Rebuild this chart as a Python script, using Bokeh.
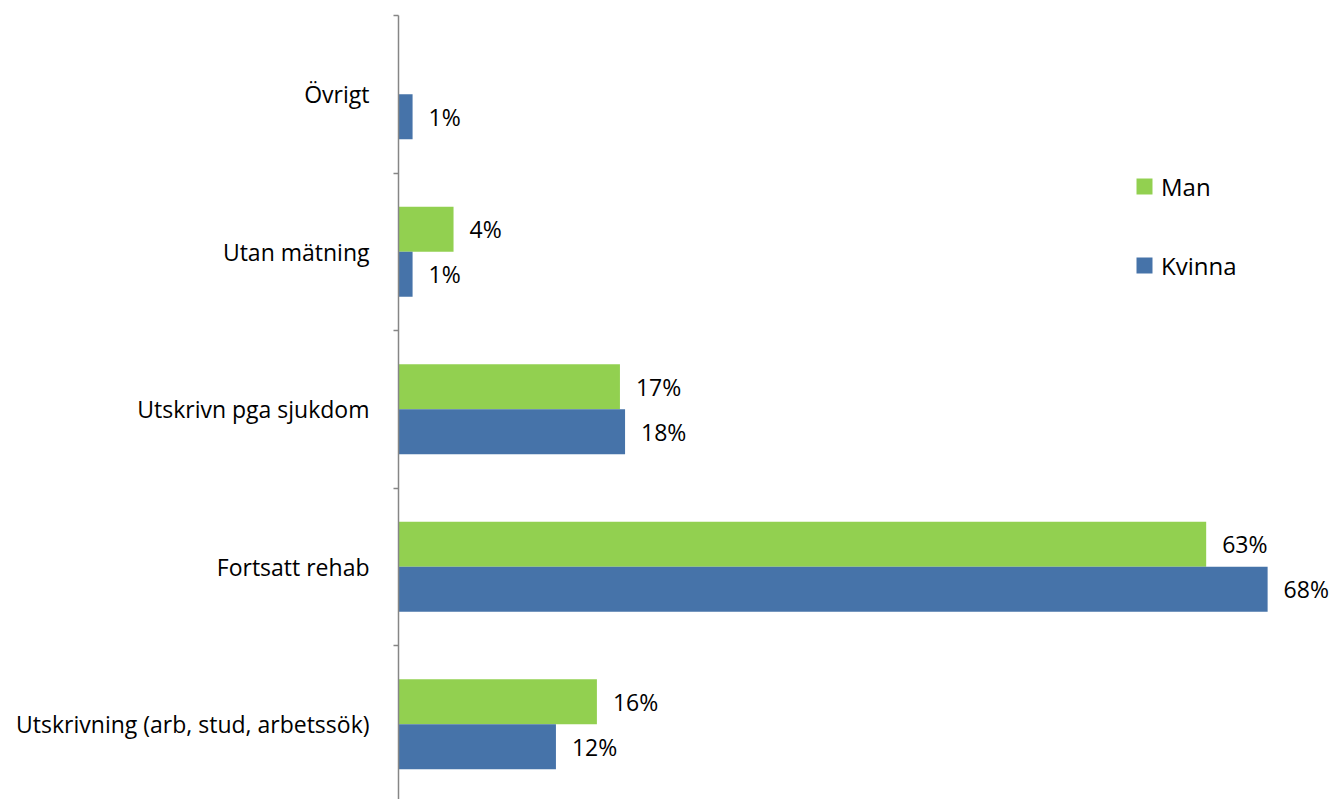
from bokeh.plotting import figure
from bokeh.models import (ColumnDataSource, Range1d, FixedTicker, Legend, LegendItem)
from bokeh.core.properties import value
from bokeh.embed import file_html
from bokeh.resources import INLINE
from bokeh.transform import dodge

# ---- data (bottom to top) ----
categories = ["Utskrivning (arb, stud, arbetssök)", "Fortsatt rehab",
              "Utskrivn pga sjukdom", "Utan mätning", "Övrigt"]
man = [15.5, 63.1, 17.3, 4.3, None]
kvinna = [12.3, 67.9, 17.7, 1.1, 1.1]
series_names = ["Man", "Kvinna"]
colors = ["#92D050", "#4673A9"]

FONT = "Open Sans"
pos = list(range(len(categories)))


def fmt(v):
    return f"{int(v + 0.5)}%"


W = 1333
H = 799
top_b = 15
frame_h = H - top_b
p = figure(width=W, height=H, output_backend="svg", toolbar_location=None,
           x_range=Range1d(0, (W - 398) / 12.8),
           y_range=Range1d(4.5 - frame_h / 157.5, 4.5),
           x_axis_location=None, min_border_left=398, min_border_top=top_b,
           min_border_bottom=0, min_border_right=0)
p.outline_line_color = None
p.xgrid.visible = False
p.ygrid.visible = False
p.background_fill_color = None
p.border_fill_color = "white"

bar_h = 0.2857
renderers = []
for vals, off, col in [(man, bar_h / 2, colors[0]), (kvinna, -bar_h / 2, colors[1])]:
    ys = [i for i, v in zip(pos, vals) if v is not None]
    xs = [v for v in vals if v is not None]
    src = ColumnDataSource(dict(y=ys, x=xs, lab=[fmt(v) for v in xs]))
    r = p.hbar(y=dodge("y", off), right="x", left=0, height=bar_h, source=src,
               fill_color=col, line_color=None)
    renderers.append(r)
    p.text(x="x", y=dodge("y", off), text="lab", source=src, x_offset=16,
           text_baseline="middle", text_align="left",
           text_font=value(FONT), text_font_size="23px", text_color="#000000")

ax = p.yaxis[0]
ax.ticker = FixedTicker(ticks=pos, minor_ticks=[i - 0.5 for i in pos] + [len(pos) - 0.5])
ax.major_label_overrides = {i: c for i, c in zip(pos, categories)}
ax.major_tick_out = 0
ax.major_tick_in = 0
ax.minor_tick_out = 5
ax.minor_tick_in = 0
ax.minor_tick_line_color = "#868686"
ax.minor_tick_line_width = 1.5
ax.axis_line_color = "#868686"
ax.axis_line_width = 1.5
ax.major_label_standoff = 24
ax.major_label_text_font = FONT
ax.major_label_text_font_size = "23px"
ax.major_label_text_color = "#000000"

legend = Legend(items=[LegendItem(label=series_names[0], renderers=[renderers[0]]),
                       LegendItem(label=series_names[1], renderers=[renderers[1]])],
                location=(736, 516), padding=0, margin=0, spacing=43,
                glyph_width=20, glyph_height=20, label_height=36,
                label_standoff=7, label_text_font=FONT, label_text_font_size="24px",
                label_text_color="#000000",
                border_line_color=None, background_fill_alpha=0)
p.add_layout(legend, "center")

open("out.html", "w").write(file_html(p, INLINE))
